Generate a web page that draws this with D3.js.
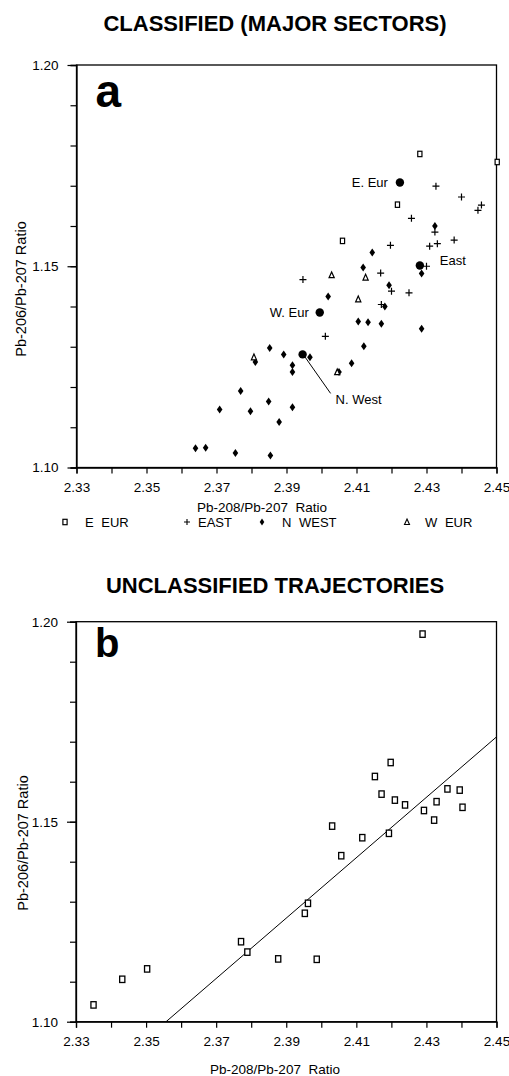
<!DOCTYPE html>
<html><head><meta charset="utf-8">
<script src="https://cdn.jsdelivr.net/npm/d3@7"></script>
<style>
html,body{margin:0;padding:0;background:#fff;}
svg{display:block;font-family:"Liberation Sans",Arial,sans-serif;}
</style></head>
<body><svg id="c" width="509" height="1076"></svg>
<script>
// ---------- data ----------
const xTicks = [2.33,2.34,2.35,2.36,2.37,2.38,2.39,2.40,2.41,2.42,2.43,2.44,2.45];
const xTickLabels = ["2.33","2.35","2.37","2.39","2.41","2.43","2.45"];
const yMinorTicks = [1.10,1.11,1.12,1.13,1.14,1.15,1.16,1.17,1.18,1.19,1.20];
const yTickLabels = ["1.10","1.15","1.20"];
const legendNames = ["E EUR","EAST","N WEST","W EUR"];

// Panel a
const eEurX = [2.4281,2.4502,2.4217,2.4060];
const eEurY = [1.1779,1.1759,1.1653,1.1563];
const eastX = [2.4327,2.4400,2.4457,2.4447,2.4257,2.4324,2.4197,2.4309,2.4331,2.4379,2.4300,2.3947,2.4169,2.4200,2.4250,2.4171,2.4011];
const eastY = [1.1699,1.1672,1.1652,1.1639,1.1619,1.1585,1.1552,1.1550,1.1556,1.1565,1.1500,1.1467,1.1483,1.1438,1.1434,1.1405,1.1326];
const nWestX = [2.4324,2.4145,2.4119,2.4286,2.4193,2.4019,2.4181,2.4105,2.4133,2.4171,2.4286,2.4121,2.3852,2.3892,2.3967,2.3811,2.3917,2.3917,2.4086,2.4050,2.3769,2.3709,2.3797,2.3849,2.3917,2.3879,2.3640,2.3669,2.3754,2.3854];
const nWestY = [1.1600,1.1534,1.1497,1.1482,1.1453,1.1425,1.1400,1.1363,1.1361,1.1357,1.1345,1.1301,1.1297,1.1281,1.1274,1.1262,1.1254,1.1237,1.1259,1.1237,1.1190,1.1144,1.1140,1.1164,1.1150,1.1113,1.1048,1.1049,1.1036,1.1030];
const wEurX = [2.4029,2.4126,2.4105,2.3807,2.4045];
const wEurY = [1.1478,1.1472,1.1418,1.1274,1.1237];
const centroidNames = ["E. Eur","East","W. Eur","N. West"];
const centroidX = [2.4224,2.4281,2.3995,2.3946];
const centroidY = [1.1708,1.1502,1.1385,1.1281];

// Panel b
const unX = [2.4289,2.4198,2.4153,2.4172,2.4210,2.4239,2.4360,2.4395,2.4403,2.4329,2.4293,2.4322,2.4193,2.4031,2.4117,2.4057,2.3962,2.3953,2.3771,2.3789,2.3877,2.3987,2.3503,2.3432,2.3350];
const unY = [1.1969,1.1648,1.1613,1.1569,1.1554,1.1542,1.1582,1.1579,1.1536,1.1550,1.1528,1.1504,1.1471,1.1489,1.1460,1.1415,1.1296,1.1271,1.1200,1.1174,1.1157,1.1156,1.1132,1.1106,1.1042];
const fitX = [2.3557,2.45];
const fitY = [1.10,1.1712];

// ---------- drawing ----------
const svg = d3.select("#c");
const FONT = '"Liberation Sans",Arial,sans-serif';

function zip(xs, ys){ return xs.map((x,i)=>({x, y: ys[i]})); }

function panel(opt){
  const x = d3.scaleLinear().domain([2.33,2.45]).range([opt.left, opt.right]);
  const y = d3.scaleLinear().domain([1.10,1.20]).range([opt.bottom, opt.top]);
  const g = svg.append("g");

  // title
  g.append("text").attr("x",275).attr("y",opt.titleY)
    .attr("text-anchor","middle").attr("font-size",22).attr("font-weight","bold")
    .text(opt.title);

  // frame
  g.append("rect").attr("x",opt.left).attr("y",opt.top)
    .attr("width",opt.right-opt.left).attr("height",opt.bottom-opt.top)
    .attr("fill","none").attr("stroke","#000").attr("stroke-width",1.3);

  // x axis
  const xa = g.append("g").attr("transform",`translate(0,${opt.bottom})`)
    .call(d3.axisBottom(x).tickValues(xTicks).tickSize(6).tickPadding(9)
      .tickFormat(d => { const s = d3.format(".2f")(d); return xTickLabels.includes(s) ? s : ""; }));
  xa.select(".domain").attr("stroke-width",1.3);
  xa.selectAll("line").attr("stroke-width",1.2);
  xa.selectAll("text").attr("font-size",13.5).attr("font-family",FONT).attr("fill","#000");

  // y axis minor ticks
  const ya = g.append("g").attr("transform",`translate(${opt.left},0)`)
    .call(d3.axisLeft(y).tickValues(yMinorTicks).tickSize(6).tickFormat(""));
  ya.select(".domain").attr("stroke-width",1.3);
  ya.selectAll("line").attr("stroke-width",1.2);
  // y major ticks with labels
  const yb = g.append("g").attr("transform",`translate(${opt.left},0)`)
    .call(d3.axisLeft(y).tickValues(yTickLabels.map(Number)).tickSize(9).tickPadding(9)
      .tickFormat(d3.format(".2f")));
  yb.select(".domain").remove();
  yb.selectAll("line").attr("stroke-width",1.2);
  yb.selectAll("text").attr("font-size",13.5).attr("font-family",FONT).attr("fill","#000");

  // axis titles
  g.append("text").attr("x",opt.xTitleX).attr("y",opt.xTitleY).attr("text-anchor","middle")
    .attr("font-size",13.5).attr("xml:space","preserve").style("white-space","pre")
    .text("Pb-208/Pb-207  Ratio");
  g.append("text").attr("transform",`translate(${opt.yTitleX},${opt.yTitleY}) rotate(-90)`)
    .attr("text-anchor","middle").attr("font-size",14.5)
    .text("Pb-206/Pb-207 Ratio");

  // panel letter
  g.append("text").attr("x",opt.left+19).attr("y",opt.letterY)
    .attr("font-size",opt.letterSize).attr("font-weight","bold").text(opt.letter);

  return {g, x, y};
}

function squares(g, x, y, data, w, h, sw){
  g.selectAll(null).data(data).join("rect")
    .attr("x", d => x(d.x)-w/2).attr("y", d => y(d.y)-h/2)
    .attr("width", w).attr("height", h)
    .attr("fill","#fff").attr("stroke","#000").attr("stroke-width",sw);
}
function pluses(g, x, y, data, s){
  g.selectAll(null).data(data).join("path")
    .attr("d", d => `M${x(d.x)-s},${y(d.y)}H${x(d.x)+s}M${x(d.x)},${y(d.y)-s}V${y(d.y)+s}`)
    .attr("stroke","#000").attr("stroke-width",1.2).attr("fill","none");
}
function diamonds(g, x, y, data){
  g.selectAll(null).data(data).join("path")
    .attr("d", d => { const cx=x(d.x), cy=y(d.y); return `M${cx},${cy-4}L${cx+2.8},${cy}L${cx},${cy+4}L${cx-2.8},${cy}Z`; })
    .attr("fill","#000");
}
function triangles(g, x, y, data){
  g.selectAll(null).data(data).join("path")
    .attr("d", d => { const cx=x(d.x), cy=y(d.y); return `M${cx},${cy-3.2}L${cx+2.6},${cy+2.6}L${cx-2.6},${cy+2.6}Z`; })
    .attr("fill","#fff").attr("stroke","#000").attr("stroke-width",1.2);
}

// ---- Panel a ----
const A = panel({left:76.5, right:496.5, top:65, bottom:467.5, title:"CLASSIFIED (MAJOR SECTORS)", titleY:31,
  xTitleX:262, xTitleY:512, yTitleX:26, yTitleY:289, letter:"a", letterY:107, letterSize:46});

squares(A.g, A.x, A.y, zip(eEurX,eEurY), 4.2, 5.4, 1.2);
pluses(A.g, A.x, A.y, zip(eastX,eastY), 3.5);
diamonds(A.g, A.x, A.y, zip(nWestX,nWestY));
triangles(A.g, A.x, A.y, zip(wEurX,wEurY));

// centroids
const cents = centroidNames.map((n,i)=>({n, x:centroidX[i], y:centroidY[i]}));
A.g.selectAll(null).data(cents).join("circle")
  .attr("cx", d=>A.x(d.x)).attr("cy", d=>A.y(d.y)).attr("r",4.2).attr("fill","#000");
const labelOff = {"E. Eur":[-12,4.5,"end"], "East":[20,0,"start"], "W. Eur":[-11,4.5,"end"], "N. West":[33,50,"start"]};
A.g.selectAll(null).data(cents).join("text")
  .attr("x", d=>A.x(d.x)+labelOff[d.n][0]).attr("y", d=>A.y(d.y)+labelOff[d.n][1])
  .attr("text-anchor", d=>labelOff[d.n][2]).attr("font-size",13).text(d=>d.n);
// leader line for N. West
const nw = cents[3];
A.g.append("line").attr("x1",A.x(nw.x)+2).attr("y1",A.y(nw.y)+2)
  .attr("x2",A.x(nw.x)+28).attr("y2",A.y(nw.y)+39).attr("stroke","#000").attr("stroke-width",1);

// legend
const legY = 522;
const leg = svg.append("g").attr("font-size",13);
const legSymX = [65,187,262,407];
const legTxtX = [85,198,282,425];
legendNames.forEach((n,i)=>{
  const sx = legSymX[i];
  if(i===0) leg.append("rect").attr("x",sx-2.1).attr("y",legY-2.7).attr("width",4.2).attr("height",5.4).attr("fill","#fff").attr("stroke","#000").attr("stroke-width",1.2);
  if(i===1) leg.append("path").attr("d",`M${sx-3},${legY}H${sx+3}M${sx},${legY-3}V${legY+3}`).attr("stroke","#000").attr("stroke-width",1.1);
  if(i===2) leg.append("path").attr("d",`M${sx},${legY-3.5}L${sx+2.3},${legY}L${sx},${legY+3.5}L${sx-2.3},${legY}Z`).attr("fill","#000");
  if(i===3) leg.append("path").attr("d",`M${sx},${legY-3}L${sx+2.5},${legY+2.5}L${sx-2.5},${legY+2.5}Z`).attr("fill","#fff").attr("stroke","#000").attr("stroke-width",1.1);
  leg.append("text").attr("x",legTxtX[i]).attr("y",legY+4.8).attr("word-spacing",4).text(n);
});

// ---- Panel b ----
const B = panel({left:76, right:496.5, top:621.7, bottom:1021.7, title:"UNCLASSIFIED TRAJECTORIES", titleY:593,
  xTitleX:275, xTitleY:1074, yTitleX:28, yTitleY:843, letter:"b", letterY:657, letterSize:40});

B.g.append("path").datum(zip(fitX,fitY))
  .attr("d", d3.line().x(d=>B.x(d.x)).y(d=>B.y(d.y)))
  .attr("stroke","#000").attr("stroke-width",1).attr("fill","none");
squares(B.g, B.x, B.y, zip(unX,unY), 5.2, 6.4, 1.3);
</script></body></html>
